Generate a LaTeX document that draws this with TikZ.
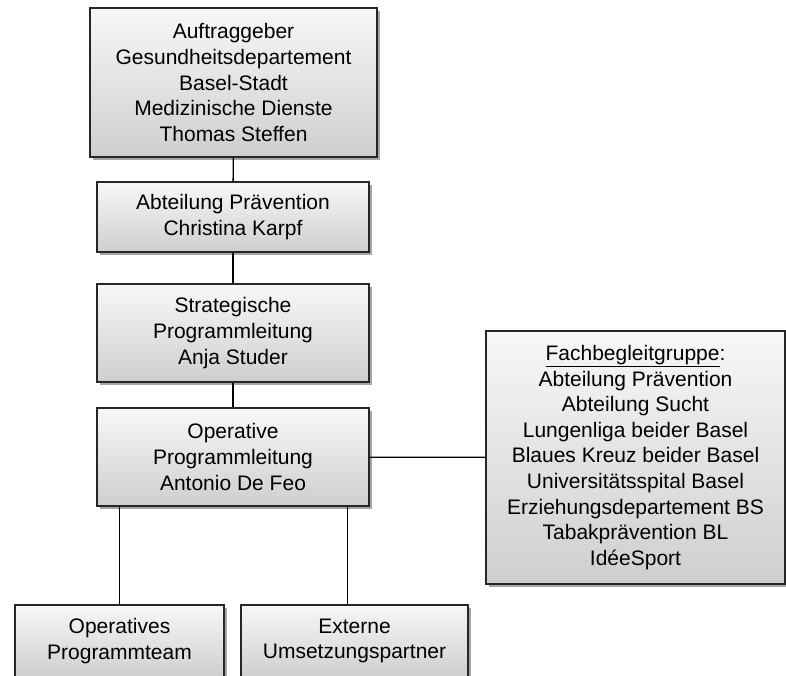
\documentclass[tikz,border=0pt]{standalone}
\usepackage{fontspec}
\setmainfont{Liberation Sans}
\usepackage{tikz}
\usetikzlibrary{calc, shapes, shadows, positioning}

\begin{document}
\begin{tikzpicture}[
  x=1pt, y=-1pt,
  box/.style={
    draw=black!85,
    line width=1.4pt,
    rectangle,
    align=center,
    inner sep=0pt,
    top color=gray!6,
    bottom color=gray!38,
    drop shadow={shadow xshift=2.5pt, shadow yshift=-2.5pt, opacity=0.35, fill=black},
    font=\fontsize{21}{25.6}\selectfont
    },
  link/.style={line width=1.3pt, black}
]

\path[use as bounding box] (0,0) rectangle (786,675);
\clip (0,0) rectangle (786,675);

\node[box, minimum width=287, minimum height=149] (auftrag) at (233.5,82.5)
  {Auftraggeber\\Gesundheitsdepartement\\Basel-Stadt\\Medizinische Dienste\\Thomas Steffen};
\node[box, minimum width=272, minimum height=70] (abteilung) at (233,217)
  {Abteilung Prävention\\Christina Karpf};
\node[box, minimum width=272, minimum height=98] (strategie) at (233,333)
  {Strategische\\Programmleitung\\Anja Studer};
\node[box, minimum width=272, minimum height=98] (operativ) at (233,457)
  {Operative\\Programmleitung\\Antonio De Feo};
\node[box, minimum width=299, minimum height=253] (fach) at (635.5,457.5)
  {\underline{Fachbegleitgruppe}:\\Abteilung Prävention\\Abteilung Sucht\\Lungenliga beider Basel\\Blaues Kreuz beider Basel\\Universitätsspital Basel\\Erziehungsdepartement BS\\Tabakprävention BL\\IdéeSport};
\node[box, minimum width=209, minimum height=72] (team) at (119.5,641)
  {Operatives\\Programmteam};
\node[box, minimum width=227, minimum height=72] (partner) at (354.5,641)
  {Externe\\Umsetzungspartner};

\coordinate (abzweig) at ([xshift=-22pt]operativ.south east);

\draw[link] (auftrag) -- (abteilung);
\draw[link] (abteilung) -- (strategie);
\draw[link] (strategie) -- (operativ);
\draw[link] (operativ) -- (fach);
\draw[link] (operativ.south -| team.north) -- (team.north);
\draw[link] (abzweig) -- (abzweig |- partner.north);

\end{tikzpicture}
\end{document}
